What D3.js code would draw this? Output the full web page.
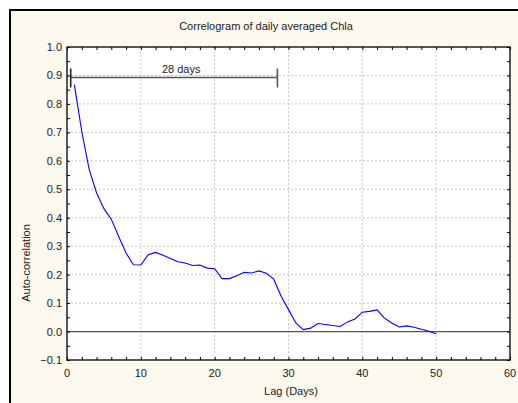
<!DOCTYPE html>
<html>
<head>
<meta charset="utf-8">
<script src="https://cdn.jsdelivr.net/npm/d3@7"></script>
<style>
  body { margin: 0; background: #fff; }
  text { font-family: "Liberation Sans", Arial, sans-serif; fill: #222; }
</style>
</head>
<body>
<svg id="chart" width="518" height="403"></svg>
<script>
// values, lag 1..50
let lags = d3.range(1, 51);
let acf = [
    0.867, 0.703, 0.570, 0.488, 0.432, 0.395, 0.334, 0.276, 0.235, 0.234,
    0.270, 0.278, 0.268, 0.257, 0.245, 0.241, 0.232, 0.234, 0.223, 0.221,
    0.186, 0.186, 0.196, 0.208, 0.206, 0.213, 0.205, 0.184, 0.124, 0.077,
    0.030, 0.007, 0.012, 0.028, 0.025, 0.021, 0.018, 0.034, 0.044, 0.068,
    0.071, 0.076, 0.047, 0.030, 0.016, 0.020, 0.015, 0.008, 0.001, -0.008
];
let xTicks = [0, 10, 20, 30, 40, 50, 60];
let yTicks = [-0.1, 0, 0.1, 0.2, 0.3, 0.4, 0.5, 0.6, 0.7, 0.8, 0.9, 1.0];
let spanStart = 0.5, spanEnd = 28.5, spanLevel = 0.893;
let spanLabel = "28 days";

var svg = d3.select("#chart");
var plotLeft = 67, plotRight = 510, plotTop = 47, plotBottom = 360;

var x = d3.scaleLinear().domain([0, 60]).range([plotLeft, plotRight]);
var y = d3.scaleLinear().domain([-0.1, 1.0]).range([plotBottom, plotTop]);

// outer frame
svg.append("rect")
    .attr("x", 10).attr("y", 10)
    .attr("width", 520).attr("height", 400)
    .style("fill", "#fdf9ee")
    .style("stroke", "#000")
    .style("stroke-width", 2);

svg.append("rect")
    .attr("x", plotLeft).attr("y", plotTop)
    .attr("width", plotRight - plotLeft).attr("height", plotBottom - plotTop)
    .style("fill", "#fff");

// dotted grid
svg.append("g")
    .selectAll("line")
    .data(xTicks.slice(1, -1))
    .enter().append("line")
    .attr("x1", d => x(d)).attr("x2", d => x(d))
    .attr("y1", plotTop).attr("y2", plotBottom)
    .style("stroke", "#c8c8c8")
    .style("stroke-dasharray", "2,2");

svg.append("g")
    .selectAll("line")
    .data(yTicks.slice(1, -1))
    .enter().append("line")
    .attr("x1", plotLeft).attr("x2", plotRight)
    .attr("y1", d => y(d)).attr("y2", d => y(d))
    .style("stroke", "#c8c8c8")
    .style("stroke-dasharray", "2,2");

// zero line
svg.append("line")
    .attr("x1", plotLeft).attr("x2", plotRight)
    .attr("y1", y(0)).attr("y2", y(0))
    .style("stroke", "#555")
    .style("stroke-width", 1.2);

// axes with inward ticks on all four sides
var xMinor = d3.range(0, 61, 2);
var yMinor = d3.range(-0.1, 1.001, 0.05);

svg.append("g")
    .attr("transform", "translate(0," + plotBottom + ")")
    .call(d3.axisTop(x).tickValues(xMinor).tickSize(3).tickFormat(""));
svg.append("g")
    .attr("transform", "translate(0," + plotTop + ")")
    .call(d3.axisBottom(x).tickValues(xMinor).tickSize(3).tickFormat(""));
svg.append("g")
    .attr("transform", "translate(" + plotLeft + ",0)")
    .call(d3.axisRight(y).tickValues(yMinor).tickSize(3).tickFormat(""));
svg.append("g")
    .attr("transform", "translate(" + plotRight + ",0)")
    .call(d3.axisLeft(y).tickValues(yMinor).tickSize(3).tickFormat(""));

svg.selectAll(".domain").remove();
svg.selectAll(".tick line").style("stroke", "#000");

svg.append("rect")
    .attr("x", plotLeft).attr("y", plotTop)
    .attr("width", plotRight - plotLeft).attr("height", plotBottom - plotTop)
    .style("fill", "none")
    .style("stroke", "#000")
    .style("stroke-width", 1.3);

// tick labels
svg.append("g")
    .selectAll("text")
    .data(xTicks)
    .enter().append("text")
    .attr("x", d => x(d))
    .attr("y", 377)
    .attr("text-anchor", "middle")
    .style("font-size", "11px")
    .text(d => d);

svg.append("g")
    .selectAll("text")
    .data(yTicks)
    .enter().append("text")
    .attr("x", 62)
    .attr("y", d => y(d) + 4)
    .attr("text-anchor", "end")
    .style("font-size", "11px")
    .text(d => d3.format(".1f")(d));

// the series
var line = d3.line()
    .x((d, i) => x(lags[i]))
    .y(d => y(d));

svg.append("path")
    .datum(acf)
    .attr("d", line)
    .style("fill", "none")
    .style("stroke", "#0000ff")
    .style("stroke-width", 1.1);

// 28 days bracket
var sp = svg.append("g").style("stroke", "#555").style("stroke-width", 1.6);
sp.append("line")
    .attr("x1", x(spanStart)).attr("x2", x(spanEnd))
    .attr("y1", y(spanLevel)).attr("y2", y(spanLevel));
sp.append("line")
    .attr("x1", x(spanStart)).attr("x2", x(spanStart))
    .attr("y1", y(spanLevel) - 9).attr("y2", y(spanLevel) + 10)
    .style("stroke", "#222");
sp.append("line")
    .attr("x1", x(spanEnd)).attr("x2", x(spanEnd))
    .attr("y1", y(spanLevel) - 9).attr("y2", y(spanLevel) + 10);

svg.append("text")
    .attr("x", x(12.85))
    .attr("y", y(spanLevel) - 4)
    .style("font-size", "11px")
    .text(spanLabel);

// titles
svg.append("text")
    .attr("x", 266).attr("y", 30)
    .attr("text-anchor", "middle")
    .style("font-size", "11px")
    .text("Correlogram of daily averaged Chla");

svg.append("text")
    .attr("x", 291).attr("y", 395)
    .attr("text-anchor", "middle")
    .style("font-size", "11px")
    .text("Lag (Days)");

svg.append("text")
    .attr("transform", "translate(30,263) rotate(-90)")
    .attr("text-anchor", "middle")
    .style("font-size", "11px")
    .text("Auto-correlation");
</script>
</body>
</html>
